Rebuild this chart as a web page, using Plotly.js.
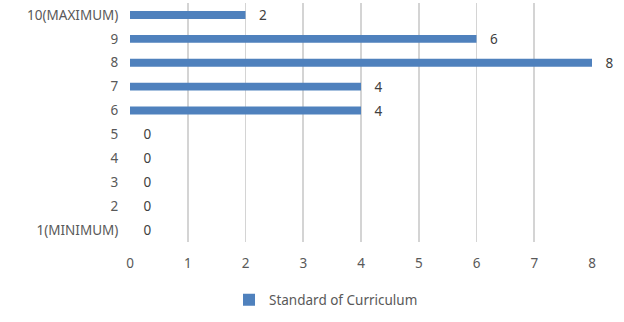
<!DOCTYPE html>
<html><head><meta charset="utf-8">
<script src="https://cdn.plot.ly/plotly-3.0.1.min.js"></script>
<style>html,body{margin:0;padding:0;background:#fff}#chart{width:624px;height:322px}</style>
</head><body><div id="chart"></div>
<script>
const categories = ["1(MINIMUM)", "2", "3", "4", "5", "6", "7", "8", "9", "10(MAXIMUM)"];
const values = [0, 0, 0, 0, 0, 4, 4, 8, 6, 2];
const seriesName = "Standard of Curriculum";
const xTicks = [0, 1, 2, 3, 4, 5, 6, 7, 8];

const font = "'Noto Sans', 'Open Sans', sans-serif";
const fs = 13.5;
Plotly.newPlot('chart', [{
  type: 'bar', orientation: 'h',
  y: categories, x: values, name: seriesName,
  marker: {color: '#4f81bd'},
  text: values.map(v => '   ' + v), textposition: 'outside', constraintext: 'none',
  textfont: {family: font, size: fs, color: '#404040'},
  cliponaxis: false, hoverinfo: 'none'
}], {
  width: 624, height: 322,
  margin: {l: 130, r: 32, t: 3, b: 80},
  paper_bgcolor: '#fff', plot_bgcolor: '#fff',
  bargap: 0.67,
  font: {family: font, size: fs, color: '#595959'},
  xaxis: {range: [0, 8], tickvals: xTicks, showgrid: true, gridcolor: '#d4d4d4', gridwidth: 1.6,
          zeroline: false, showline: false, ticks: 'outside', ticklen: 9, tickcolor: 'rgba(0,0,0,0)',
          tickfont: {family: font, size: fs, color: '#595959'}, fixedrange: true},
  yaxis: {type: 'category', categoryorder: 'array', categoryarray: categories, showgrid: false,
          zeroline: false, showline: false, ticks: 'outside', ticklen: 8, tickcolor: 'rgba(0,0,0,0)',
          tickfont: {family: font, size: fs, color: '#595959'}, fixedrange: true},
  showlegend: true,
  legend: {orientation: 'h', xref: 'container', yref: 'container', x: 0.367, xanchor: 'left', y: 0.02, yanchor: 'bottom',
           font: {family: font, size: fs, color: '#595959'}}
}, {staticPlot: true});
</script></body></html>
